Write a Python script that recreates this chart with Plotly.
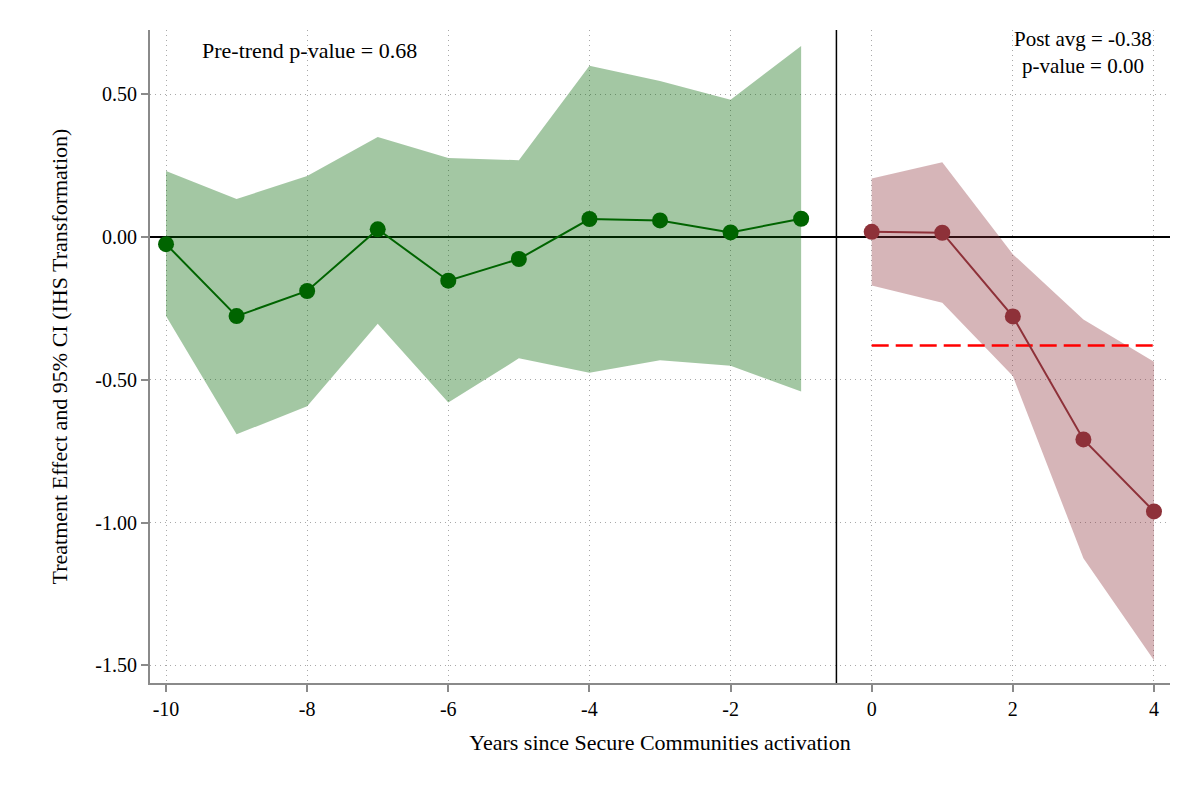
import plotly.graph_objects as go

# ---- data ----
pre_years = [-10, -9, -8, -7, -6, -5, -4, -3, -2, -1]
pre_est = [-0.025, -0.277, -0.189, 0.027, -0.153, -0.077, 0.063, 0.058, 0.016, 0.064]
pre_hi = [0.231, 0.133, 0.214, 0.350, 0.277, 0.269, 0.600, 0.546, 0.481, 0.669]
pre_lo = [-0.277, -0.691, -0.593, -0.304, -0.580, -0.425, -0.475, -0.432, -0.451, -0.541]

post_years = [0, 1, 2, 3, 4]
post_est = [0.018, 0.015, -0.278, -0.709, -0.961]
post_hi = [0.205, 0.262, -0.060, -0.289, -0.437]
post_lo = [-0.170, -0.230, -0.487, -1.125, -1.482]

post_avg = -0.38
event_line = -0.5

x_ticks = [-10, -8, -6, -4, -2, 0, 2, 4]
x_ticktext = ["-10", "-8", "-6", "-4", "-2", "0", "2", "4"]
y_ticks = [0.5, 0.0, -0.5, -1.0, -1.5]
y_ticktext = ["0.50", "0.00", "-0.50", "-1.00", "-1.50"]

pre_text = "Pre-trend p-value = 0.68"
post_text = "Post avg = -0.38<br>p-value = 0.00"

GREEN = "#006400"
GREEN_FILL = "rgba(0,100,0,0.36)"
RED = "#8e3139"
RED_FILL = "rgba(142,49,57,0.36)"
FONT = "Liberation Serif"

fig = go.Figure()

# CI bands
fig.add_trace(go.Scatter(
    x=pre_years + pre_years[::-1], y=pre_hi + pre_lo[::-1],
    fill="toself", fillcolor=GREEN_FILL, line=dict(width=0),
    mode="lines", hoverinfo="skip", showlegend=False))
fig.add_trace(go.Scatter(
    x=post_years + post_years[::-1], y=post_hi + post_lo[::-1],
    fill="toself", fillcolor=RED_FILL, line=dict(width=0),
    mode="lines", hoverinfo="skip", showlegend=False))

# post average dashed line
fig.add_trace(go.Scatter(
    x=[post_years[0], post_years[-1]], y=[post_avg, post_avg],
    mode="lines", line=dict(color="#ff0000", width=2.5, dash="17px,7px"),
    showlegend=False))

# point estimates
fig.add_trace(go.Scatter(
    x=pre_years, y=pre_est, mode="lines+markers",
    line=dict(color=GREEN, width=2), marker=dict(color=GREEN, size=16),
    showlegend=False))
fig.add_trace(go.Scatter(
    x=post_years, y=post_est, mode="lines+markers",
    line=dict(color=RED, width=2), marker=dict(color=RED, size=16),
    showlegend=False))

fig.add_shape(type="line", xref="x", yref="paper", x0=event_line, x1=event_line,
              y0=0, y1=1, line=dict(color="black", width=1.5))

fig.add_annotation(text=pre_text, xref="paper", yref="paper", x=0.049, y=0.969,
                   xanchor="left", yanchor="middle", showarrow=False,
                   font=dict(family=FONT, size=22, color="black"))
fig.add_annotation(text=post_text, xref="paper", yref="paper", x=0.915, y=0.966,
                   xanchor="center", yanchor="middle", align="center", showarrow=False,
                   font=dict(family=FONT, size=21, color="black"))

axis_common = dict(
    showline=True, linecolor="#8a8a8a", linewidth=2, mirror=False,
    ticks="outside", ticklen=7, tickwidth=1.5, tickcolor="#8a8a8a",
    showgrid=True, gridcolor="#a8a8a8", gridwidth=1, griddash="1px,4px",
    tickfont=dict(family=FONT, size=20, color="black"),
)

fig.update_xaxes(
    range=[-10.227, 4.227], tickvals=x_ticks, ticktext=x_ticktext,
    zeroline=False,
    title=dict(text="Years since Secure Communities activation",
               font=dict(family=FONT, size=22, color="black"), standoff=16),
    **axis_common)
fig.update_yaxes(
    range=[-1.562, 0.725], tickvals=y_ticks, ticktext=y_ticktext,
    zeroline=True, zerolinecolor="black", zerolinewidth=1.5,
    title=dict(text="Treatment Effect and 95% CI (IHS Transformation)",
               font=dict(family=FONT, size=22, color="black"), standoff=22),
    **axis_common)

fig.update_layout(
    width=1184, height=784,
    margin=dict(l=142, r=22, t=22, b=109),
    plot_bgcolor="white", paper_bgcolor="white",
    font=dict(family=FONT, size=20, color="black"),
    showlegend=False,
)

fig.write_html("out.html")
